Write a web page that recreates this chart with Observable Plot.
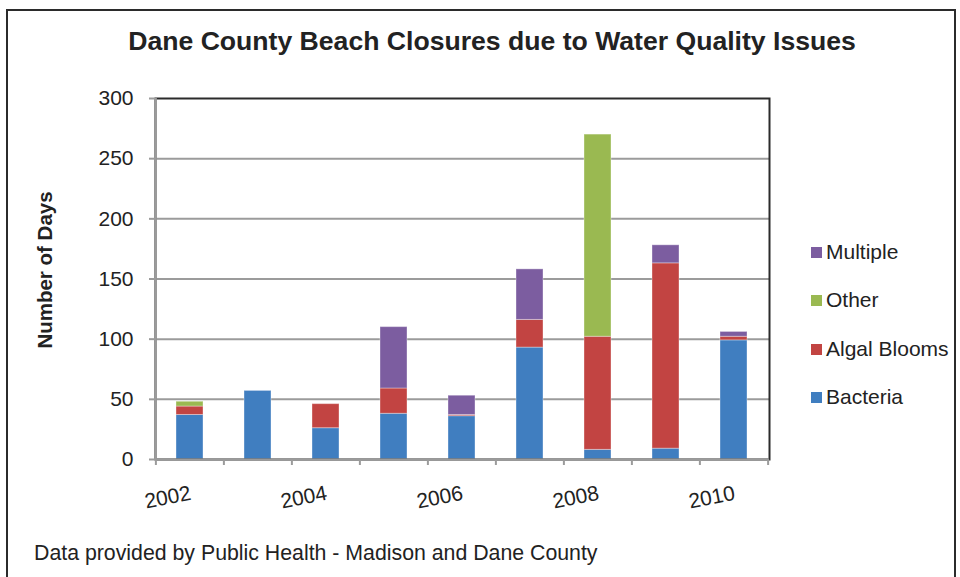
<!DOCTYPE html>
<html>
<head>
<meta charset="utf-8">
<script src="https://cdn.jsdelivr.net/npm/d3@7"></script>
<script src="https://cdn.jsdelivr.net/npm/@observablehq/plot@0.6"></script>
<style>
  html, body { margin: 0; padding: 0; background: #fff; }
  #wrap { position: relative; width: 960px; height: 577px; overflow: hidden; font-family: "Liberation Sans", Arial, sans-serif; color: #222; }
  #frame { position: absolute; left: 6px; top: 9px; width: 950px; height: 620px; border: 2px solid #2b2b2b; box-sizing: border-box; }
  #title { position: absolute; left: 0; width: 984px; top: 26px; text-align: center; font-weight: bold; font-size: 26.6px; }
  #caption { position: absolute; left: 34px; top: 541px; font-size: 21.3px; }
  #ylab { position: absolute; left: 45px; top: 270px; transform: translate(-50%, -50%) rotate(-90deg); font-weight: bold; font-size: 20.5px; white-space: nowrap; }
  #legend { position: absolute; left: 811px; top: 0; font-size: 21px; }
  .li { position: absolute; left: 0; white-space: nowrap; display: flex; align-items: center; }
  .sw { width: 11px; height: 11px; margin-right: 4px; }
  #chart { position: absolute; left: 0; top: 0; }
</style>
</head>
<body>
<div id="wrap">
  <div id="frame"></div>
  <div id="chart"></div>
  <div id="title">Dane County Beach Closures due to Water Quality Issues</div>
  <div id="ylab">Number of Days</div>
  <div id="legend"></div>
  <div id="caption">Data provided by Public Health - Madison and Dane County</div>
</div>
<script>
const years = [2002, 2003, 2004, 2005, 2006, 2007, 2008, 2009, 2010];
const bacteria = [37, 57, 26, 38, 36, 93, 8, 9, 99];
const algalBlooms = [7, 0, 20, 21, 1, 23, 94, 154, 3];
const other = [4, 0, 0, 0, 0, 0, 168, 0, 0];
const multiple = [0, 0, 0, 51, 16, 42, 0, 15, 4];
const types = ["Bacteria", "Algal Blooms", "Other", "Multiple"];
const colors = ["#407ec0", "#c24442", "#9ab951", "#7c5da0"];
const yTicks = [0, 50, 100, 150, 200, 250, 300];
const labelYears = [2002, 2004, 2006, 2008, 2010];

const series = [bacteria, algalBlooms, other, multiple];
const table = [];
years.forEach((yr, i) => {
  types.forEach((t, k) => table.push({year: yr, type: t, value: series[k][i]}));
});

const W = 960, H = 577;
const mL = 155, mR = W - 769, mT = 98, mB = H - 459;
const step = (W - mL - mR) / years.length;

const chart = Plot.plot({
  width: W,
  height: H,
  marginLeft: mL,
  marginRight: mR,
  marginTop: mT,
  marginBottom: mB,
  style: {fontFamily: "'Liberation Sans', Arial, sans-serif", fontSize: "21px", color: "#222", background: "transparent"},
  x: {type: "band", domain: years, paddingInner: 0.6, paddingOuter: 0.3, axis: null, label: null},
  y: {domain: [0, 300], axis: null, label: null},
  color: {domain: types, range: colors},
  marks: [
    Plot.ruleY(yTicks.filter(d => d > 0 && d < 300), {stroke: "#9b9b9b", strokeWidth: 2}),
    Plot.barY(table, {x: "year", y: "value", fill: "type", order: types, stroke: "#ffffff", strokeOpacity: 0.35, strokeWidth: 1}),
    Plot.frame({stroke: "#2b2b2b", strokeWidth: 2}),
    Plot.axisX({ticks: years, tickSize: 6, tickFormat: () => "", label: null, dx: -step / 2, stroke: "#9b9b9b", strokeWidth: 2}),
    Plot.axisX({ticks: [2010], tickSize: 6, tickFormat: () => "", label: null, dx: step / 2, stroke: "#9b9b9b", strokeWidth: 2}),
    Plot.ruleY([0], {stroke: "#9b9b9b", strokeWidth: 2}),
    Plot.ruleX([0], {x: () => years[0], dx: -step / 2, y1: 0, y2: 300, stroke: "#9b9b9b", strokeWidth: 2}),
    Plot.axisY({ticks: yTicks, tickSize: 6, tickPadding: 16, label: null, stroke: "#9b9b9b", strokeWidth: 2, fontSize: 21, fill: "#222"}),
    Plot.text(labelYears, {x: d => d, frameAnchor: "bottom", dy: 40, dx: 2, rotate: -11, textAnchor: "end", text: d => String(d), fontSize: 21, fill: "#222"})
  ]
});
document.getElementById("chart").appendChild(chart);

const legend = document.getElementById("legend");
const legendOrder = ["Multiple", "Other", "Algal Blooms", "Bacteria"];
const legendY = [252, 300, 349, 397];
legendOrder.forEach((t, i) => {
  const div = document.createElement("div");
  div.className = "li";
  div.style.top = (legendY[i] - 12) + "px";
  div.style.height = "24px";
  const sw = document.createElement("span");
  sw.className = "sw";
  sw.style.background = colors[types.indexOf(t)];
  div.appendChild(sw);
  div.appendChild(document.createTextNode(t));
  legend.appendChild(div);
});
</script>
</body>
</html>
